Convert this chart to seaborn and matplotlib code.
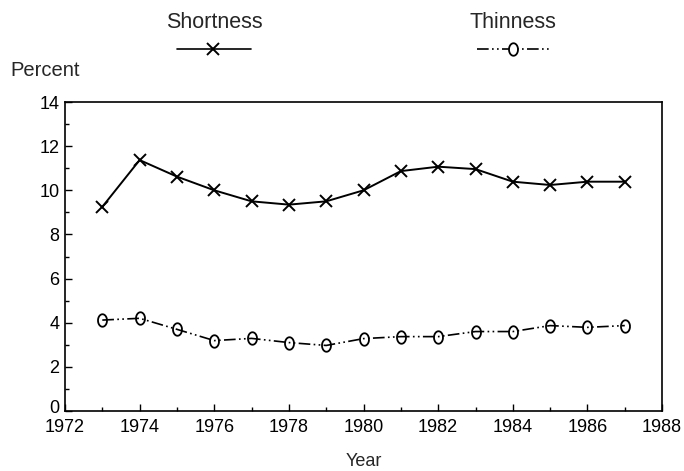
import numpy as np
import pandas as pd
import matplotlib
matplotlib.use('Agg')
import matplotlib.pyplot as plt
import matplotlib.transforms as mtransforms
import seaborn as sns
from matplotlib.lines import Line2D
from matplotlib.ticker import MultipleLocator

years = list(range(1973, 1988))
shortness = [9.25, 11.37, 10.62, 10.0, 9.5, 9.35, 9.5, 10.0, 10.87, 11.07, 10.96, 10.39, 10.24, 10.39, 10.39]
thinness = [4.12, 4.2, 3.7, 3.19, 3.29, 3.1, 2.97, 3.28, 3.37, 3.37, 3.6, 3.6, 3.87, 3.79, 3.87]

sns.set_style('white')
plt.rcParams['font.family'] = ['Liberation Sans', 'DejaVu Sans']

df = pd.DataFrame({'Year': years, 'Shortness': shortness, 'Thinness': thinness})

fig = plt.figure(figsize=(6.84, 4.71), dpi=100)
ax = fig.add_axes([0.095, 0.1274, 0.873, 0.656])

dashdot = (0, (7, 2, 1, 2, 1, 2))
# tall narrow "0"-like ring for the thinness series
t = np.linspace(0, 2 * np.pi, 40)
oval = list(zip(0.72 * np.cos(t), np.sin(t)))

sns.lineplot(data=df, x='Year', y='Shortness', ax=ax, color='black', lw=1.4,
             marker='x', markersize=8, markeredgewidth=1.4, markeredgecolor='black')
sns.lineplot(data=df, x='Year', y='Thinness', ax=ax, color='black', lw=1.2,
             linestyle=dashdot, marker=oval, markersize=9, markerfacecolor='none',
             markeredgecolor='black', markeredgewidth=1.3)

ax.set_xlim(1972, 1988)
ax.set_ylim(0, 14)
ax.xaxis.set_major_locator(MultipleLocator(2))
ax.xaxis.set_minor_locator(MultipleLocator(1))
ax.yaxis.set_major_locator(MultipleLocator(2))
ax.yaxis.set_minor_locator(MultipleLocator(1))
ax.tick_params(which='both', direction='in', left=True, bottom=True, labelsize=13, colors='black')
ax.tick_params(axis='x', pad=6)
ax.tick_params(axis='y', pad=4)
ax.tick_params(which='major', length=5, width=1)
ax.tick_params(which='minor', length=3, width=1)
for s in ax.spines.values():
    s.set_color('black')
    s.set_linewidth(1.2)

# nudge the "0" up a little so it clears "1972"
fig.canvas.draw()
for tick in ax.yaxis.get_major_ticks():
    if tick.get_loc() == 0:
        lab = tick.label1
        lab.set_transform(lab.get_transform() + mtransforms.ScaledTranslation(0, 3 / 72, fig.dpi_scale_trans))

ax.set_xlabel('Year', fontsize=13, labelpad=12)
ax.set_ylabel('')
fig.text(0.015, 0.851, 'Percent', fontsize=14.5, ha='left', va='center')

# legend drawn above the plot: name on top, sample line below
fig.text(0.314, 0.953, 'Shortness', fontsize=15.5, ha='center', va='center')
fig.text(0.75, 0.953, 'Thinness', fontsize=15.5, ha='center', va='center')
fig.add_artist(Line2D([0.259, 0.367], [0.896, 0.896], transform=fig.transFigure,
                      color='black', lw=1.2))
fig.add_artist(Line2D([0.312], [0.896], transform=fig.transFigure, color='black',
                      marker='x', markersize=8, markeredgewidth=1.4))
fig.add_artist(Line2D([0.697, 0.804], [0.896, 0.896], transform=fig.transFigure,
                      color='black', lw=1.2, linestyle=dashdot))
fig.add_artist(Line2D([0.75], [0.896], transform=fig.transFigure, color='black',
                      marker=oval, markersize=9, markerfacecolor='white', markeredgewidth=1.3))

fig.savefig('out.png', dpi=100)
